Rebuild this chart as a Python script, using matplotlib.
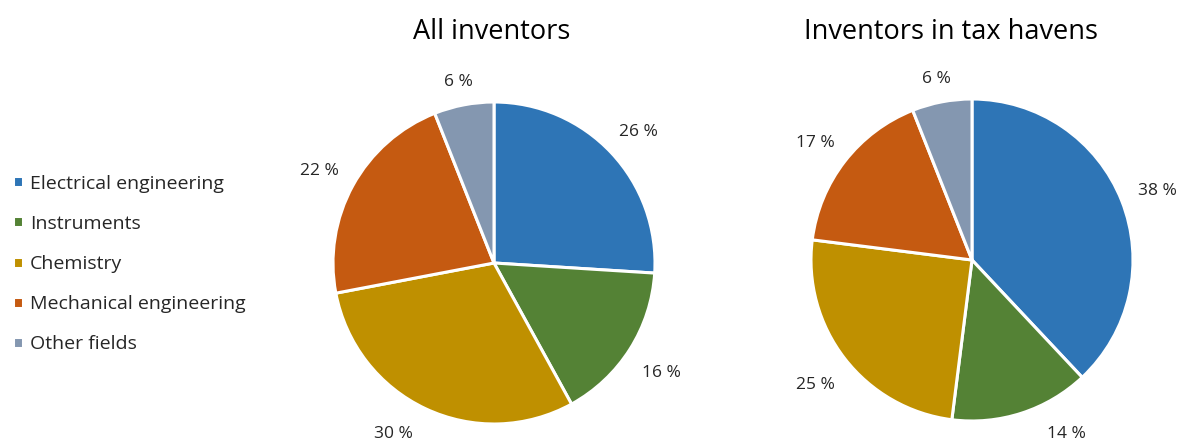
import numpy as np
import matplotlib
matplotlib.use("Agg")
import matplotlib.pyplot as plt

plt.rcParams['font.family'] = ['Open Sans', 'DejaVu Sans']

categories = ["Electrical engineering", "Instruments", "Chemistry",
              "Mechanical engineering", "Other fields"]
colors = ["#2E75B6", "#548235", "#BF9000", "#C55A11", "#8497B0"]

all_inventors = [26, 16, 30, 22, 6]
tax_havens = [38, 14, 25, 17, 6]

titles = ["All inventors", "Inventors in tax havens"]
title_x = [492, 951]

W, H = 1179, 443
fig = plt.figure(figsize=(W / 100, H / 100), dpi=100)
renderer = fig.canvas.get_renderer()

# pie centres and radius in pixels
centres = [(494, 263), (972, 260)]
radius = 161
box = 180  # half-size of each axes in pixels
gap = 0.105  # label box edge sits this far (in radii) outside the pie
margin = 1   # keep labels this many pixels above the bottom edge
drop = 4 / radius  # digits sit above the box centre, nudge them down
step = np.deg2rad(0.5)

wedges_first = None
for (cx, cy), vals, title, tx in zip(centres, [all_inventors, tax_havens], titles, title_x):
    ax = fig.add_axes([(cx - box) / W, (H - cy - box) / H, 2 * box / W, 2 * box / H])
    lim = box / radius
    wedges, _ = ax.pie(vals, colors=colors, startangle=90, counterclock=False,
                       wedgeprops=dict(edgecolor="white", linewidth=2.2))
    ax.set_xlim(-lim, lim)
    ax.set_ylim(-lim, lim)
    ax.set_aspect("equal")
    ax.axis("off")

    # value labels outside the pie, box edge at a fixed distance from the rim
    floor = -(H - cy - margin) / radius
    for w, v in zip(wedges, vals):
        t = ax.text(0, 0, f"{v} %", ha="center", va="center",
                    fontsize=12.5, color="#262626")
        bb = t.get_window_extent(renderer)
        hw, hh = bb.width / 2 / radius, bb.height / 2 / radius
        ang = np.deg2rad((w.theta1 + w.theta2) / 2)
        for _ in range(40):
            c, s = np.cos(ang), np.sin(ang)
            d = 1 + gap + abs(c) * hw + abs(s) * hh
            x, y = d * c, d * s - drop
            if y - hh >= floor:
                break
            # slide along the rim towards the horizontal until it fits
            ang += step if c > 0 else -step
        t.set_position((x, y))

    fig.text(tx / W, 1 - 32 / H, title,
             ha="center", va="center", fontsize=19.5, color="#000000")
    if wedges_first is None:
        wedges_first = wedges

fig.legend(wedges_first, categories, loc="center left",
           bbox_to_anchor=(13 / W, 1 - 264 / H), frameon=False,
           borderpad=0, borderaxespad=0,
           fontsize=14, handlelength=0.5, handleheight=0.5, handletextpad=0.38,
           labelspacing=1.14, labelcolor="#262626")

fig.savefig("out.png", dpi=100, facecolor="white")
